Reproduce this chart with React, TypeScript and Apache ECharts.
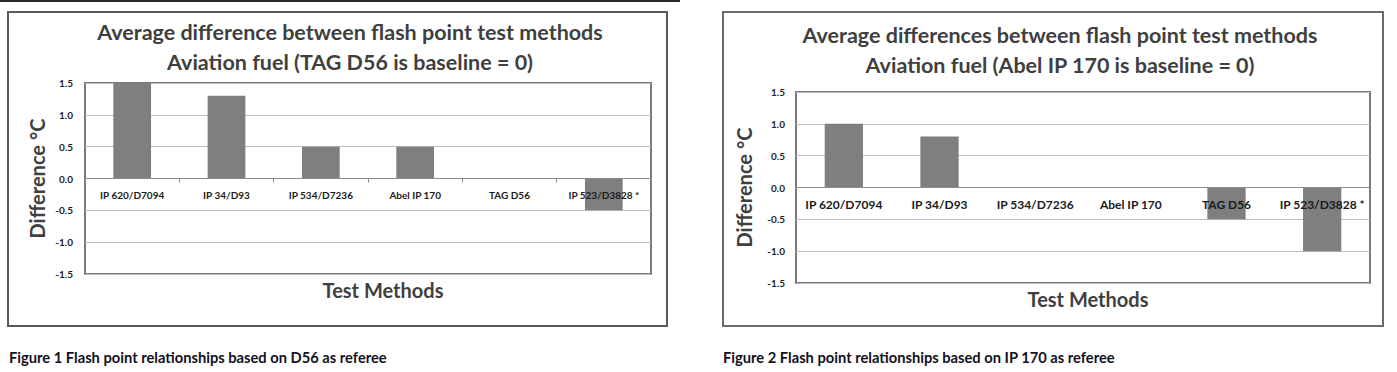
import React, { useEffect, useRef } from "react";
import * as echarts from "echarts";

const categories = ["IP 620/D7094", "IP 34/D93", "IP 534/D7236", "Abel IP 170", "TAG D56", "IP 523/D3828 *"];
const fig1Values = [1.5, 1.3, 0.5, 0.5, 0, -0.5];
const fig2Values = [1.0, 0.8, 0, 0, -0.5, -1.0];
const yTicks = { min: -1.5, max: 1.5, interval: 0.5 };
const fig1Title = "Average difference between flash point test methods\nAviation fuel (TAG D56 is baseline = 0)";
const fig2Title = "Average differences between flash point test methods\nAviation fuel (Abel IP 170 is baseline = 0)";
const fig1Caption = "Figure 1 Flash point relationships based on D56 as referee";
const fig2Caption = "Figure 2 Flash point relationships based on IP 170 as referee";
const yName = "Difference °C";
const xName = "Test Methods";

const FONT = "Lato, 'Open Sans', sans-serif";

export default function App() {
  const ref = useRef<HTMLDivElement>(null);
  useEffect(() => {
    if (!ref.current) return;
    const chart = echarts.init(ref.current, undefined, { renderer: "svg" });

    const yAxisBase = (nameGap: number, labelMargin: number) => ({
      type: "value" as const,
      min: yTicks.min,
      max: yTicks.max,
      interval: yTicks.interval,
      name: yName,
      nameLocation: "middle" as const,
      nameRotate: 90,
      nameGap,
      nameTextStyle: { fontFamily: FONT, fontWeight: "bold", fontSize: 20, color: "#404040" },
      axisLine: { show: false },
      axisTick: { show: false },
      axisLabel: {
        fontFamily: FONT,
        fontWeight: "bold",
        fontSize: 10,
        color: "#222",
        margin: labelMargin,
        formatter: (v: number) => v.toFixed(1),
      },
      splitLine: { lineStyle: { color: "#bdbdbd", width: 1 } },
    });

    const xAxisBase = (fontSize: number, showTick: boolean, offset: number) => ({
      type: "category" as const,
      data: categories,
      z: 10,
      offset,
      axisLine: { show: true, onZero: false, lineStyle: { color: "#8c8c8c", width: 1 } },
      axisTick: { show: showTick, length: 4, lineStyle: { color: "#8c8c8c" } },
      axisLabel: {
        fontFamily: FONT,
        fontWeight: "bold",
        fontSize,
        color: "#1a1a1a",
        margin: 11,
        interval: 0,
      },
      splitLine: { show: false },
    });

    const textEl = (x: number, y: number, text: string, fontSize: number, color: string, align = "center", lineHeight?: number) => ({
      type: "text",
      x,
      y,
      silent: true,
      style: {
        text,
        fontFamily: FONT,
        fontWeight: "bold",
        fontSize,
        fill: color,
        align,
        verticalAlign: "middle",
        lineHeight: lineHeight ?? fontSize * 1.2,
      },
    });

    chart.setOption({
      animation: false,
      backgroundColor: "#ffffff",
      grid: [
        { left: 85, top: 83, width: 566, height: 191, show: true, borderColor: "#7a7a7a", borderWidth: 2, backgroundColor: "transparent" },
        { left: 796, top: 92, width: 574, height: 191, show: true, borderColor: "#7a7a7a", borderWidth: 2, backgroundColor: "transparent" },
      ],
      xAxis: [
        { ...xAxisBase(10, true, -95.5), gridIndex: 0 },
        { ...xAxisBase(12, false, -95.5), gridIndex: 1 },
      ],
      yAxis: [
        { ...yAxisBase(38, 12), gridIndex: 0 },
        { ...yAxisBase(42, 11), gridIndex: 1 },
      ],
      series: [
        { type: "bar", xAxisIndex: 0, yAxisIndex: 0, data: fig1Values, barWidth: "40%", itemStyle: { color: "#7f7f7f" } },
        { type: "bar", xAxisIndex: 1, yAxisIndex: 1, data: fig2Values, barWidth: "40%", itemStyle: { color: "#7f7f7f" } },
      ],
      graphic: [
        { type: "line", silent: true, shape: { x1: 0, y1: 1, x2: 680, y2: 1 }, style: { stroke: "#2a2a2a", lineWidth: 2 } },
        { type: "rect", silent: true, z: -10, shape: { x: 8, y: 12, width: 659, height: 314 }, style: { fill: "none", stroke: "#5a5a5a", lineWidth: 2 } },
        { type: "rect", silent: true, z: -10, shape: { x: 723, y: 12, width: 660, height: 314 }, style: { fill: "none", stroke: "#6a6a6a", lineWidth: 2 } },
        textEl(350, 47, fig1Title, 21.5, "#3f3f3f", "center", 30),
        textEl(1060, 50, fig2Title, 21.5, "#3f3f3f", "center", 30),
        textEl(383, 290, xName, 20, "#3f3f3f"),
        textEl(1088, 299, xName, 20, "#3f3f3f"),
        textEl(9, 357, fig1Caption, 14.7, "#111122", "left"),
        textEl(723, 357, fig2Caption, 14.7, "#111122", "left"),
      ],
    });
    return () => chart.dispose();
  }, []);
  return (
    <div
      ref={ref}
      style={{ position: "absolute", left: 0, top: 0, width: 1397, height: 372 }}
    />
  );
}
